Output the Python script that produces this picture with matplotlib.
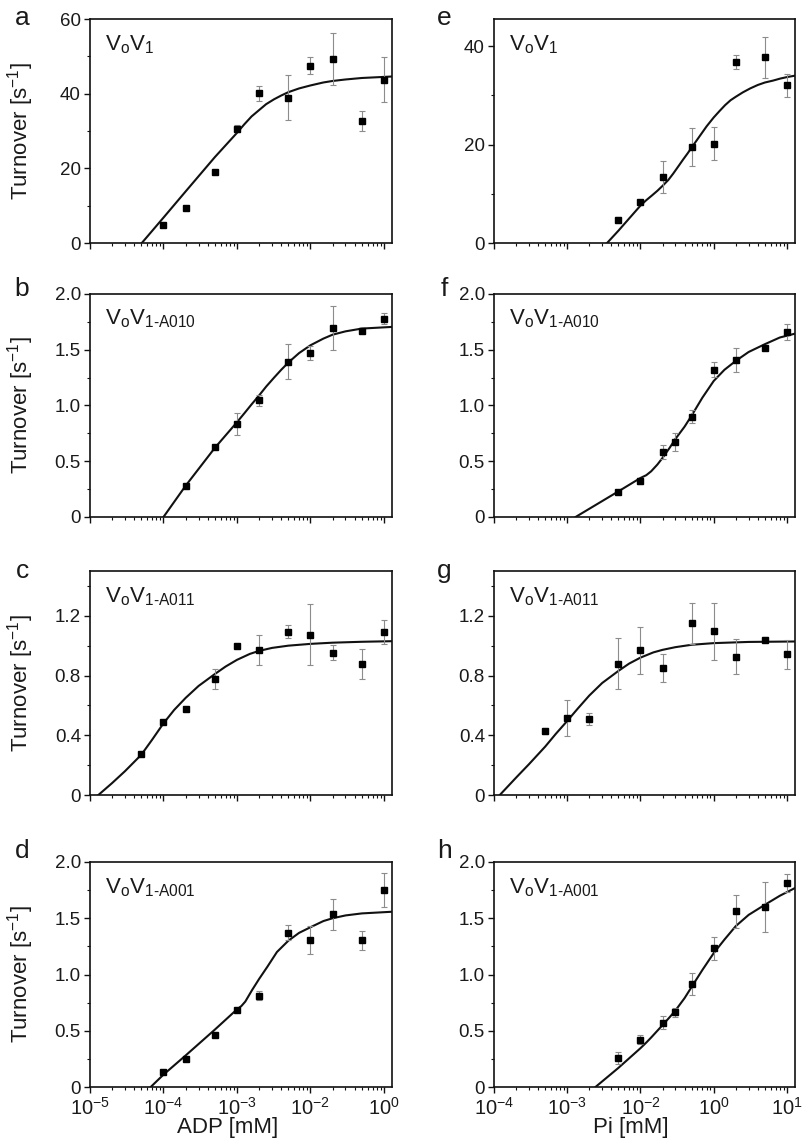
import matplotlib
matplotlib.use("Agg")
import matplotlib.pyplot as plt
from matplotlib.ticker import FixedLocator, LogLocator, NullFormatter, MultipleLocator

plt.rcParams['font.family'] = ['Liberation Sans', 'DejaVu Sans']
plt.rcParams['mathtext.fontset'] = 'custom'
plt.rcParams['mathtext.rm'] = 'Liberation Sans'
plt.rcParams['mathtext.it'] = 'Liberation Sans:italic'
plt.rcParams['mathtext.bf'] = 'Liberation Sans:bold'
TXT = '#1a1a1a'

# ---------------- data (ADP column, plotted positions) ----------------
a_x = [1e-4, 2e-4, 5e-4, 1e-3, 2e-3, 5e-3, 1e-2, 2e-2, 5e-2, 1e-1]
a_y = [4.9, 9.4, 19.1, 30.6, 40.1, 38.9, 47.5, 49.3, 32.7, 43.7]
a_err = [0.0, 0.0, 0.0, 0.9, 2.0, 6.0, 2.2, 6.9, 2.7, 6.0]
a_fit_x = [5.07e-5, 1e-4, 2e-4, 5e-4, 1e-3, 1.26e-3, 1.58e-3, 2e-3, 2.5e-3, 3.2e-3, 4e-3,
           5e-3, 7e-3, 1e-2, 1.5e-2, 2e-2, 3e-2, 5e-2, 1.3e-1]
a_fit_y = [0.0, 6.8, 13.8, 23.0, 29.5, 31.8, 33.9, 35.6, 37.2, 38.5, 39.5,
           40.4, 41.4, 42.2, 43.0, 43.4, 43.8, 44.2, 44.6]

b_x = [2e-4, 5e-4, 1e-3, 2e-3, 5e-3, 1e-2, 2e-2, 5e-2, 1e-1]
b_y = [0.275, 0.624, 0.836, 1.048, 1.394, 1.472, 1.696, 1.672, 1.779]
b_err = [0.0, 0.0, 0.10, 0.05, 0.16, 0.06, 0.195, 0.025, 0.05]
b_fit_x = [1e-4, 2e-4, 5e-4, 1e-3, 1.26e-3, 1.58e-3, 2e-3, 2.5e-3, 3.2e-3, 4e-3, 5e-3,
           7e-3, 1e-2, 1.5e-2, 2e-2, 3e-2, 5e-2, 1.3e-1]
b_fit_y = [0.0, 0.28, 0.62, 0.85, 0.93, 1.01, 1.09, 1.17, 1.25, 1.32, 1.385,
           1.47, 1.54, 1.60, 1.635, 1.665, 1.69, 1.705]

c_x = [5e-5, 1e-4, 2e-4, 5e-4, 1e-3, 2e-3, 5e-3, 1e-2, 2e-2, 5e-2, 1e-1]
c_y = [0.277, 0.489, 0.574, 0.780, 0.999, 0.972, 1.093, 1.073, 0.954, 0.878, 1.093]
c_err = [0.0, 0.0, 0.0, 0.067, 0.015, 0.10, 0.045, 0.205, 0.05, 0.10, 0.08]
c_fit_x = [1.3e-5, 2e-5, 3e-5, 5e-5, 7e-5, 1e-4, 1.4e-4, 2e-4, 3e-4, 5e-4, 7e-4, 1e-3,
           1.5e-3, 2e-3, 3e-3, 5e-3, 1e-2, 2e-2, 5e-2, 1.3e-1]
c_fit_y = [0.0, 0.08, 0.16, 0.27, 0.37, 0.48, 0.57, 0.65, 0.73, 0.81, 0.86, 0.905,
           0.945, 0.965, 0.985, 1.0, 1.012, 1.02, 1.026, 1.03]

d_x = [1e-4, 2e-4, 5e-4, 1e-3, 2e-3, 5e-3, 1e-2, 2e-2, 5e-2, 1e-1]
d_y = [0.137, 0.249, 0.463, 0.688, 0.810, 1.371, 1.303, 1.534, 1.303, 1.751]
d_err = [0.0, 0.0, 0.0, 0.0, 0.04, 0.065, 0.125, 0.135, 0.085, 0.15]
d_fit_x = [6.7e-5, 1e-4, 2e-4, 5e-4, 1e-3, 1.15e-3, 1.3e-3, 1.6e-3, 2e-3, 2.6e-3, 3.5e-3,
           5e-3, 7e-3, 1e-2, 1.5e-2, 2e-2, 3e-2, 5e-2, 1.3e-1]
d_fit_y = [0.0, 0.11, 0.28, 0.51, 0.69, 0.72, 0.76, 0.86, 0.96, 1.07, 1.20,
           1.30, 1.37, 1.42, 1.475, 1.50, 1.525, 1.543, 1.558]

# ---------------- data (Pi column, plotted positions) ----------------
e_x = [5e-3, 1e-2, 2e-2, 5e-2, 1e-1, 2e-1, 5e-1, 1.0]
e_y = [4.73, 8.24, 13.4, 19.5, 20.2, 36.8, 37.7, 32.0]
e_err = [0.6, 0.5, 3.3, 3.8, 3.3, 1.4, 4.1, 2.3]
e_fit_x = [3.5e-3, 5e-3, 1e-2, 1.2e-2, 1.42e-2, 1.7e-2, 2e-2, 2.4e-2, 2.8e-2, 3.3e-2, 3.84e-2,
           4.4e-2, 5e-2, 6.5e-2, 8e-2, 1e-1, 0.12, 0.143, 0.17, 0.2, 0.25, 0.315, 0.4, 0.5,
           0.65, 0.81, 1.0, 1.3]
e_fit_y = [0.0, 2.5, 7.6, 8.7, 9.6, 10.6, 11.6, 12.8, 14.1, 15.6, 17.0,
           18.2, 19.4, 21.8, 23.7, 25.5, 26.8, 28.0, 29.0, 29.7, 30.6, 31.4, 32.1, 32.6,
           33.0, 33.4, 33.7, 34.0]

f_x = [5e-3, 1e-2, 2e-2, 3e-2, 5e-2, 1e-1, 2e-1, 5e-1, 1.0]
f_y = [0.224, 0.322, 0.582, 0.669, 0.901, 1.322, 1.406, 1.519, 1.657]
f_err = [0.015, 0.03, 0.06, 0.08, 0.06, 0.07, 0.11, 0.01, 0.07]
f_fit_x = [1.3e-3, 5e-3, 1e-2, 1.2e-2, 1.4e-2, 1.7e-2, 2e-2, 2.5e-2, 3e-2, 4e-2, 5e-2,
           7e-2, 1e-1, 1.4e-1, 2e-1, 3e-1, 5e-1, 0.8, 1.3]
f_fit_y = [0.0, 0.23, 0.35, 0.375, 0.41, 0.47, 0.53, 0.62, 0.70, 0.81, 0.91,
           1.07, 1.22, 1.32, 1.40, 1.48, 1.55, 1.61, 1.645]

g_x = [5e-4, 1e-3, 2e-3, 5e-3, 1e-2, 2e-2, 5e-2, 1e-1, 2e-1, 5e-1, 1.0]
g_y = [0.427, 0.518, 0.507, 0.878, 0.968, 0.849, 1.149, 1.095, 0.927, 1.041, 0.943]
g_err = [0.02, 0.12, 0.04, 0.17, 0.16, 0.095, 0.135, 0.19, 0.115, 0.015, 0.097]
g_fit_x = [1.2e-4, 2e-4, 3e-4, 5e-4, 7e-4, 1e-3, 1.4e-3, 2e-3, 3e-3, 5e-3, 7e-3, 1e-2,
           1.5e-2, 2e-2, 3e-2, 5e-2, 1e-1, 0.3, 1.3]
g_fit_y = [0.0, 0.116, 0.206, 0.324, 0.41, 0.496, 0.58, 0.666, 0.75, 0.831, 0.88, 0.92,
           0.955, 0.972, 0.99, 1.006, 1.017, 1.025, 1.028]

h_x = [5e-3, 1e-2, 2e-2, 3e-2, 5e-2, 1e-1, 2e-1, 5e-1, 1.0]
h_y = [0.257, 0.418, 0.573, 0.666, 0.916, 1.233, 1.561, 1.600, 1.812]
h_err = [0.055, 0.04, 0.06, 0.04, 0.095, 0.10, 0.145, 0.22, 0.08]
h_fit_x = [2.43e-3, 5e-3, 1e-2, 1.2e-2, 1.4e-2, 1.7e-2, 2e-2, 2.5e-2, 3e-2, 4e-2, 5e-2,
           7e-2, 1e-1, 1.4e-1, 2e-1, 3e-1, 5e-1, 0.8, 1.3]
h_fit_y = [0.0, 0.17, 0.345, 0.395, 0.44, 0.50, 0.55, 0.62, 0.68, 0.79, 0.89,
           1.04, 1.19, 1.31, 1.43, 1.53, 1.62, 1.70, 1.77]

# tick labels
adp_ticks = [1e-5, 1e-4, 1e-3, 1e-2, 1e-1]
adp_labels = [r'$\mathregular{10^{-5}}$', r'$\mathregular{10^{-4}}$', r'$\mathregular{10^{-3}}$',
              r'$\mathregular{10^{-2}}$', r'$\mathregular{10^{0}}$']
pi_ticks = [1e-4, 1e-3, 1e-2, 1e-1, 1.0]
pi_labels = [r'$\mathregular{10^{-4}}$', r'$\mathregular{10^{-3}}$', r'$\mathregular{10^{-2}}$',
             r'$\mathregular{10^{0}}$', r'$\mathregular{10^{1}}$']

names = [r'$\mathregular{V_oV_1}$', r'$\mathregular{V_oV_{1‐A010}}$',
         r'$\mathregular{V_oV_{1‐A011}}$', r'$\mathregular{V_oV_{1‐A001}}$']

W, H = 805, 1144
fig = plt.figure(figsize=(W / 100, H / 100), dpi=100)

col_left = [90, 494]
col_w = [302, 301]
rows = [(19, 243), (294, 517), (571, 795), (862, 1087)]
letter_base = [25, 296, 578, 858]

panels = [
    (0, 0, 'a', a_x, a_y, a_err, a_fit_x, a_fit_y, 60, [0, 20, 40, 60], ['0', '20', '40', '60'], 10),
    (0, 1, 'b', b_x, b_y, b_err, b_fit_x, b_fit_y, 2.0, [0, 0.5, 1.0, 1.5, 2.0], ['0', '0.5', '1.0', '1.5', '2.0'], 0.25),
    (0, 2, 'c', c_x, c_y, c_err, c_fit_x, c_fit_y, 1.5, [0, 0.4, 0.8, 1.2], ['0', '0.4', '0.8', '1.2'], 0.2),
    (0, 3, 'd', d_x, d_y, d_err, d_fit_x, d_fit_y, 2.0, [0, 0.5, 1.0, 1.5, 2.0], ['0', '0.5', '1.0', '1.5', '2.0'], 0.25),
    (1, 0, 'e', e_x, e_y, e_err, e_fit_x, e_fit_y, 45.5, [0, 20, 40], ['0', '20', '40'], 10),
    (1, 1, 'f', f_x, f_y, f_err, f_fit_x, f_fit_y, 2.0, [0, 0.5, 1.0, 1.5, 2.0], ['0', '0.5', '1.0', '1.5', '2.0'], 0.25),
    (1, 2, 'g', g_x, g_y, g_err, g_fit_x, g_fit_y, 1.5, [0, 0.4, 0.8, 1.2], ['0', '0.4', '0.8', '1.2'], 0.2),
    (1, 3, 'h', h_x, h_y, h_err, h_fit_x, h_fit_y, 2.0, [0, 0.5, 1.0, 1.5, 2.0], ['0', '0.5', '1.0', '1.5', '2.0'], 0.25),
]

for col, row, letter, x, y, err, fx, fy, ymax, yt, yl, ymin_step in panels:
    top, bot = rows[row]
    rect = [col_left[col] / W, 1 - bot / H, col_w[col] / W, (bot - top) / H]
    ax = fig.add_axes(rect)
    ax.set_xscale('log')
    if col == 0:
        ax.set_xlim(1e-5, 1e-1 * 10 ** 0.11)
        ticks, labels = adp_ticks, adp_labels
    else:
        ax.set_xlim(1e-4, 1.0 * 10 ** 0.11)
        ticks, labels = pi_ticks, pi_labels
    ax.set_ylim(0, ymax)

    ax.plot(fx, fy, color='#111111', lw=1.5, zorder=2, solid_joinstyle='round')
    ax.errorbar(x, y, yerr=err, fmt='none', ecolor='#8c8c8c', elinewidth=0.8,
                capsize=2, capthick=0.8, zorder=3)
    ax.plot(x, y, 's', color='#000000', ms=4.2, zorder=4)

    ax.xaxis.set_major_locator(FixedLocator(ticks))
    ax.xaxis.set_minor_locator(LogLocator(base=10, subs=range(2, 10), numticks=20))
    ax.xaxis.set_minor_formatter(NullFormatter())
    if row == 3:
        ax.set_xticklabels(labels)
    else:
        ax.set_xticklabels([])
    ax.yaxis.set_major_locator(FixedLocator(yt))
    ax.set_yticklabels(yl)
    ax.yaxis.set_minor_locator(MultipleLocator(ymin_step))

    ax.tick_params(which='both', direction='out', top=False, right=False,
                   colors='#111111', labelcolor=TXT)
    ax.tick_params(which='major', length=4.5, width=1.0, labelsize=13.5, pad=2)
    ax.tick_params(axis='x', which='major', labelsize=14.5, pad=2.5)
    ax.tick_params(which='minor', length=2.5, width=0.8)
    for s in ax.spines.values():
        s.set_linewidth(1.2)
        s.set_color('#111111')

    ax.text(0.05, 0.862, names[row], transform=ax.transAxes, fontsize=16,
            color=TXT, ha='left', va='baseline')

    if col == 0:
        ax.set_ylabel(r'Turnover [s$^{\mathregular{-1}}$]', fontsize=16, color=TXT)
        ax.yaxis.set_label_coords(-0.18, 0.5)
    if row == 3:
        ax.set_xlabel('ADP [mM]' if col == 0 else 'Pi [mM]', fontsize=16, color=TXT)
        ax.xaxis.set_label_coords(0.455, -0.135)

    lx = 22 if col == 0 else 444
    fig.text(lx / W, 1 - letter_base[row] / H, letter, fontsize=19, color=TXT,
             ha='center', va='baseline')

# nudge the zero labels upward so they clear the decade labels below them
fig.canvas.draw()
for ax in fig.axes:
    lab = ax.get_yticklabels()[0]
    lab.set_verticalalignment('center_baseline')

fig.savefig('out.png', dpi=100, facecolor='white')
